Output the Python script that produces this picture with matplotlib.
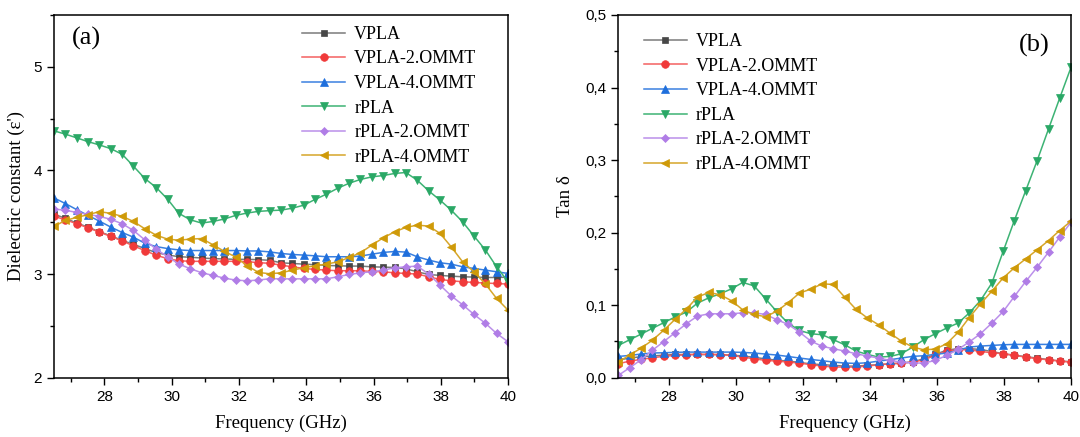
import matplotlib
matplotlib.use("Agg")
import matplotlib.pyplot as plt
from matplotlib.ticker import MultipleLocator, FuncFormatter

freq = [26.5, 26.84, 27.18, 27.51, 27.85, 28.19, 28.53, 28.86, 29.2, 29.54, 29.88,
        30.21, 30.55, 30.89, 31.23, 31.56, 31.9, 32.24, 32.58, 32.91, 33.25, 33.59,
        33.93, 34.26, 34.6, 34.94, 35.28, 35.61, 35.95, 36.29, 36.63, 36.96, 37.3,
        37.64, 37.98, 38.31, 38.65, 38.99, 39.33, 39.66, 40.0]

labels = ["VPLA", "VPLA-2.OMMT", "VPLA-4.OMMT", "rPLA", "rPLA-2.OMMT", "rPLA-4.OMMT"]

eps_VPLA = [3.579, 3.537, 3.492, 3.453, 3.408, 3.369, 3.324, 3.288, 3.246, 3.207, 3.184,
            3.168, 3.162, 3.155, 3.149, 3.146, 3.142, 3.142, 3.139, 3.133, 3.109, 3.102,
            3.096, 3.090, 3.083, 3.080, 3.077, 3.077, 3.070, 3.067, 3.064, 3.051, 3.022,
            2.996, 2.987, 2.980, 2.974, 2.971, 2.967, 2.967, 2.970]
eps_VPLA2 = [3.557, 3.524, 3.485, 3.447, 3.405, 3.363, 3.320, 3.272, 3.227, 3.181, 3.149,
             3.129, 3.123, 3.123, 3.123, 3.123, 3.123, 3.120, 3.110, 3.104, 3.086, 3.070,
             3.054, 3.045, 3.038, 3.032, 3.032, 3.032, 3.025, 3.022, 3.012, 3.006, 3.000,
             2.974, 2.948, 2.935, 2.926, 2.919, 2.913, 2.909, 2.903]
eps_VPLA4 = [3.735, 3.680, 3.621, 3.566, 3.511, 3.453, 3.401, 3.356, 3.298, 3.265, 3.246,
             3.233, 3.227, 3.227, 3.227, 3.227, 3.227, 3.223, 3.223, 3.214, 3.199, 3.189,
             3.183, 3.176, 3.167, 3.167, 3.167, 3.173, 3.192, 3.209, 3.218, 3.212, 3.167,
             3.135, 3.109, 3.096, 3.070, 3.054, 3.038, 3.022, 3.006]
eps_rPLA = [4.382, 4.350, 4.314, 4.278, 4.246, 4.210, 4.155, 4.042, 3.922, 3.835, 3.722,
            3.586, 3.524, 3.492, 3.508, 3.531, 3.566, 3.589, 3.605, 3.612, 3.617, 3.636,
            3.665, 3.720, 3.771, 3.829, 3.877, 3.913, 3.938, 3.951, 3.971, 3.980, 3.906,
            3.803, 3.713, 3.617, 3.504, 3.366, 3.231, 3.070, 2.926]
eps_rPLA2 = [3.628, 3.615, 3.595, 3.576, 3.557, 3.528, 3.485, 3.421, 3.330, 3.239, 3.168,
             3.097, 3.052, 3.013, 2.987, 2.961, 2.942, 2.935, 2.942, 2.955, 2.954, 2.954,
             2.954, 2.954, 2.954, 2.974, 2.996, 3.012, 3.022, 3.038, 3.061, 3.070, 3.077,
             3.000, 2.893, 2.790, 2.704, 2.610, 2.524, 2.427, 2.347]
eps_rPLA4 = [3.460, 3.518, 3.547, 3.573, 3.602, 3.586, 3.557, 3.508, 3.437, 3.375, 3.337,
             3.327, 3.337, 3.343, 3.282, 3.220, 3.165, 3.081, 3.016, 3.003, 3.012, 3.038,
             3.061, 3.080, 3.096, 3.118, 3.160, 3.205, 3.279, 3.350, 3.408, 3.450, 3.472,
             3.463, 3.392, 3.263, 3.118, 3.022, 2.903, 2.765, 2.652]

tan_VPLA = [0.0245, 0.027, 0.029, 0.030, 0.031, 0.032, 0.032, 0.032, 0.032, 0.032, 0.031,
            0.030, 0.028, 0.026, 0.024, 0.023, 0.021, 0.019, 0.018, 0.017, 0.016, 0.016,
            0.017, 0.018, 0.019, 0.020, 0.022, 0.026, 0.032, 0.038, 0.040, 0.040, 0.039,
            0.036, 0.033, 0.031, 0.029, 0.027, 0.025, 0.023, 0.022]
tan_VPLA2 = [0.0192, 0.0229, 0.0252, 0.0275, 0.0294, 0.0307, 0.0316, 0.0321, 0.0321, 0.0316,
             0.0307, 0.0284, 0.0261, 0.0238, 0.0229, 0.0215, 0.0202, 0.0179, 0.0160, 0.0147,
             0.0147, 0.0147, 0.0160, 0.0179, 0.0192, 0.0202, 0.0215, 0.0247, 0.0307, 0.0367,
             0.0385, 0.0385, 0.0362, 0.0344, 0.0330, 0.0307, 0.0284, 0.0261, 0.0247, 0.0229,
             0.0215]
tan_VPLA4 = [0.0293, 0.0307, 0.0326, 0.0340, 0.0344, 0.0349, 0.0353, 0.0353, 0.0353, 0.0353,
             0.0353, 0.0349, 0.0340, 0.0326, 0.0312, 0.0293, 0.0271, 0.0252, 0.0234, 0.0216,
             0.0202, 0.0197, 0.0206, 0.0229, 0.0248, 0.0271, 0.0294, 0.0303, 0.0321, 0.0340,
             0.0376, 0.0422, 0.0436, 0.0445, 0.0454, 0.0459, 0.0459, 0.0459, 0.0459, 0.0459,
             0.0459]
tan_rPLA = [0.0445, 0.0523, 0.0601, 0.0679, 0.0757, 0.0836, 0.0904, 0.1028, 0.1101, 0.1157,
            0.1226, 0.1313, 0.1266, 0.1088, 0.0909, 0.0753, 0.0652, 0.0606, 0.0592, 0.0525,
            0.0454, 0.0367, 0.0321, 0.0284, 0.0293, 0.0330, 0.0422, 0.0523, 0.0606, 0.0684,
            0.0753, 0.0890, 0.1064, 0.1305, 0.1746, 0.2167, 0.2580, 0.2993, 0.3430, 0.3852,
            0.4279]
tan_rPLA2 = [0.0032, 0.0137, 0.0248, 0.0376, 0.0496, 0.0620, 0.0744, 0.0849, 0.0881, 0.0881,
             0.0881, 0.0895, 0.0895, 0.0872, 0.0799, 0.0735, 0.0629, 0.0505, 0.0432, 0.0400,
             0.0367, 0.0330, 0.0298, 0.0271, 0.0238, 0.0215, 0.0202, 0.0202, 0.0238, 0.0307,
             0.0390, 0.0491, 0.0606, 0.0753, 0.0914, 0.1120, 0.1327, 0.1524, 0.1731, 0.1937,
             0.2144]
tan_rPLA4 = [0.0216, 0.0312, 0.0408, 0.0514, 0.0652, 0.0803, 0.0946, 0.1111, 0.1175, 0.1143,
             0.1060, 0.0936, 0.0872, 0.0840, 0.0918, 0.1032, 0.1166, 0.1221, 0.1294, 0.1285,
             0.1111, 0.0941, 0.0822, 0.0730, 0.0615, 0.0505, 0.0422, 0.0385, 0.0394, 0.0468,
             0.0624, 0.0826, 0.1018, 0.1193, 0.1377, 0.1515, 0.1639, 0.1763, 0.1891, 0.2029,
             0.2158]

eps_series = [eps_VPLA, eps_VPLA2, eps_VPLA4, eps_rPLA, eps_rPLA2, eps_rPLA4]
tan_series = [tan_VPLA, tan_VPLA2, tan_VPLA4, tan_rPLA, tan_rPLA2, tan_rPLA4]

marker_colors = ["#474747", "#f03a3a", "#1f6fdc", "#2aa866", "#b07de6", "#cf9a08"]
line_colors = ["#7a7a7a", "#f46060", "#3a80e0", "#3db374", "#bb90ea", "#d6a62a"]
markers = ["s", "o", "^", "v", "D", "<"]
msizes = [5, 5.5, 6, 6, 4.5, 6]

SERIF = "Liberation Serif"
SANS = "Liberation Sans"

fig = plt.figure(figsize=(10.8, 4.37), dpi=100)
ax1 = fig.add_axes([0.05, 0.1357, 0.4204, 0.83])
ax2 = fig.add_axes([0.5725, 0.1357, 0.4192, 0.83])

for ax, series in ((ax1, eps_series), (ax2, tan_series)):
    for s, lab, mc, lc, mk, ms in zip(series, labels, marker_colors, line_colors, markers, msizes):
        ax.plot(freq, s, color=lc, lw=1.1, marker=mk, markersize=ms,
                markerfacecolor=mc, markeredgecolor=mc, markeredgewidth=0.5, label=lab)
    ax.set_xlim(26.5, 40)
    ax.xaxis.set_major_locator(MultipleLocator(2))
    ax.xaxis.set_minor_locator(MultipleLocator(1))
    ax.tick_params(axis="both", which="major", direction="out", length=5, width=1,
                   labelsize=11, top=False, right=False)
    ax.tick_params(axis="both", which="minor", direction="out", length=3, width=1,
                   top=False, right=False)
    for sp in ax.spines.values():
        sp.set_linewidth(1.1)
    ax.set_xlabel("Frequency (GHz)", fontfamily=SERIF, fontsize=13.5, labelpad=8)

ax1.set_ylim(2, 5.5)
ax1.yaxis.set_major_locator(MultipleLocator(1))
ax1.yaxis.set_minor_locator(MultipleLocator(0.5))
ax1.yaxis.set_major_formatter(FuncFormatter(lambda v, p: "%d" % round(v)))
ax1.set_ylabel("Dielectric constant (\u03b5')", fontfamily=SERIF, fontsize=13.5, labelpad=6)
ax1.text(0.04, 0.935, "(a)", transform=ax1.transAxes, fontfamily=SERIF, fontsize=19,
         va="center", ha="left")

ax2.set_ylim(0, 0.5)
ax2.yaxis.set_major_locator(MultipleLocator(0.1))
ax2.yaxis.set_minor_locator(MultipleLocator(0.05))
ax2.yaxis.set_major_formatter(FuncFormatter(lambda v, p: ("%.1f" % v).replace(".", ",")))
ax2.set_ylabel("Tan \u03b4", fontfamily=SERIF, fontsize=13.5, labelpad=8)
ax2.text(0.885, 0.915, "(b)", transform=ax2.transAxes, fontfamily=SERIF, fontsize=19,
         va="center", ha="left")

for ax in (ax1, ax2):
    for lbl in ax.get_xticklabels() + ax.get_yticklabels():
        lbl.set_fontfamily(SANS)

leg_kw = dict(frameon=False, prop={"family": SERIF, "size": 13}, handlelength=2.4,
              handletextpad=0.5, labelspacing=0.42, borderaxespad=0.0)
ax1.legend(loc="upper left", bbox_to_anchor=(0.53, 0.99), **leg_kw)
ax2.legend(loc="upper left", bbox_to_anchor=(0.04, 0.97), **leg_kw)

fig.savefig("out.png", dpi=100)
